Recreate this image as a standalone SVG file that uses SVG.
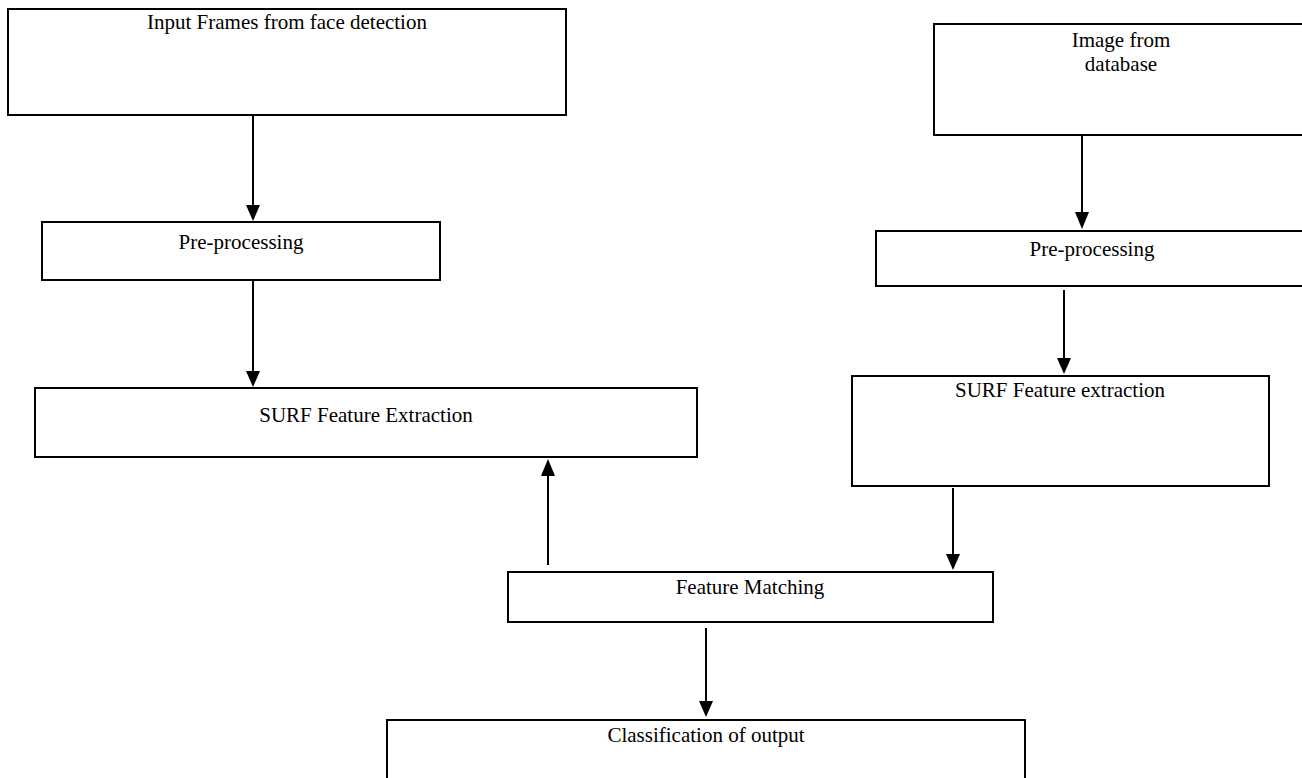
<svg xmlns="http://www.w3.org/2000/svg" width="1302" height="778" viewBox="0 0 1302 778">
<style>
.box{fill:#fff;stroke:#000;stroke-width:2}
.lbl{font-family:"Liberation Serif",serif;font-size:21px;fill:#000;text-anchor:middle}
.ln{stroke:#000;stroke-width:2;fill:none}
.hd{fill:#000}
</style>
<rect width="1302" height="778" fill="#fff"/>
<g id="connectors">
<path class="ln" d="M253,115 V205"/><path class="hd" d="M246,205 L260,205 L253,221 Z"/>
<path class="ln" d="M253,280 V372"/><path class="hd" d="M246,371 L260,371 L253,387 Z"/>
<path class="ln" d="M548,565 V475"/><path class="hd" d="M541,476 L555,476 L548,459 Z"/>
<path class="ln" d="M1082,135 V213"/><path class="hd" d="M1075,212 L1089,212 L1082,229 Z"/>
<path class="ln" d="M1064,290 V358"/><path class="hd" d="M1057,358 L1071,358 L1064,374 Z"/>
<path class="ln" d="M953,488 V554"/><path class="hd" d="M946,554 L960,554 L953,570 Z"/>
<path class="ln" d="M706,628 V701"/><path class="hd" d="M699,701 L713,701 L706,717 Z"/>
</g>
<g id="n1"><rect class="box" x="8" y="9" width="558" height="106"/><text class="lbl" x="287" y="29">Input Frames from face detection</text></g>
<g id="n2"><rect class="box" x="42" y="222" width="398" height="58"/><text class="lbl" x="241" y="249">Pre-processing</text></g>
<g id="n3"><rect class="box" x="35" y="388" width="662" height="69"/><text class="lbl" x="366" y="422">SURF Feature Extraction</text></g>
<g id="n4"><rect class="box" x="934" y="24" width="380" height="111"/><text class="lbl" x="1121" y="47">Image from</text><text class="lbl" x="1121" y="71">database</text></g>
<g id="n5"><rect class="box" x="876" y="231" width="440" height="55"/><text class="lbl" x="1092" y="256">Pre-processing</text></g>
<g id="n6"><rect class="box" x="852" y="376" width="417" height="110"/><text class="lbl" x="1060" y="397">SURF Feature extraction</text></g>
<g id="n7"><rect class="box" x="508" y="572" width="485" height="50"/><text class="lbl" x="750" y="594">Feature Matching</text></g>
<g id="n8"><rect class="box" x="387" y="720" width="638" height="70"/><text class="lbl" x="706" y="742">Classification of output</text></g>
</svg>
